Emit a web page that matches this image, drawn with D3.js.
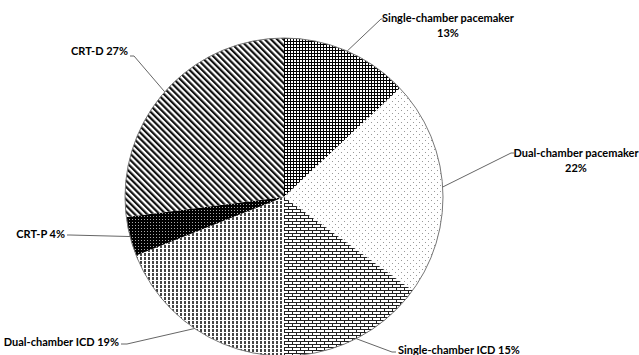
<!DOCTYPE html>
<html>
<head>
<meta charset="utf-8">
<script src="https://cdn.jsdelivr.net/npm/d3@7"></script>
<style>
  body { margin: 0; background: #fff; }
  svg { display: block; }
  text { font-family: Lato, "Liberation Sans", sans-serif; font-weight: bold; font-size: 11px; fill: #000; }
</style>
</head>
<body>
<svg id="chart" width="639" height="355"></svg>
<script>
// device types, share of implants (%)
let devices = ["Single-chamber pacemaker", "Dual-chamber pacemaker", "Single-chamber ICD", "Dual-chamber ICD", "CRT-P", "CRT-D"]
let shares = [13, 22, 15, 19, 4, 27]
let patternIds = ["grid", "dots", "brick", "dash", "blackdot", "diag"]

// label layout: [text x, first baseline, anchor, elbow x, elbow y, two lines?]
let labelLayout = [
  [448, 22, "middle", 381, 19, true],
  [576, 157, "middle", 511, 153, true],
  [398, 354, "start", 392, 352, false],
  [119, 346, "end", 127, 344, false],
  [65, 238, "end", 70, 235, false],
  [128, 55, "end", 134, 56, false]
]

let svg = d3.select("#chart")
let cx = 284, cy = 197, radius = 159

let defs = svg.append("defs")

// crosshatch
let p = defs.append("pattern").attr("id", "grid").attr("patternUnits", "userSpaceOnUse").attr("width", 3).attr("height", 3)
p.append("rect").attr("width", 3).attr("height", 3).attr("fill", "#fff")
p.append("rect").attr("width", 3).attr("height", 1).attr("fill", "#000")
p.append("rect").attr("width", 1).attr("height", 3).attr("fill", "#000")

// sparse dots
p = defs.append("pattern").attr("id", "dots").attr("patternUnits", "userSpaceOnUse").attr("width", 6).attr("height", 6)
p.append("rect").attr("width", 6).attr("height", 6).attr("fill", "#fff")
p.append("rect").attr("width", 1).attr("height", 1).attr("fill", "#999")
p.append("rect").attr("x", 3).attr("y", 3).attr("width", 1).attr("height", 1).attr("fill", "#999")

// bricks
p = defs.append("pattern").attr("id", "brick").attr("patternUnits", "userSpaceOnUse").attr("width", 8).attr("height", 6)
p.append("rect").attr("width", 8).attr("height", 6).attr("fill", "#fff")
p.append("rect").attr("width", 8).attr("height", 1).attr("fill", "#222")
p.append("rect").attr("y", 3).attr("width", 8).attr("height", 1).attr("fill", "#222")
p.append("rect").attr("width", 1).attr("height", 3).attr("fill", "#222")
p.append("rect").attr("x", 4).attr("y", 3).attr("width", 1).attr("height", 3).attr("fill", "#222")

// small vertical dashes
p = defs.append("pattern").attr("id", "dash").attr("patternUnits", "userSpaceOnUse").attr("width", 4).attr("height", 4)
p.append("rect").attr("width", 4).attr("height", 4).attr("fill", "#fff")
p.append("rect").attr("width", 2).attr("height", 3).attr("fill", "#444")

// black with white dots
p = defs.append("pattern").attr("id", "blackdot").attr("patternUnits", "userSpaceOnUse").attr("width", 3).attr("height", 3)
p.append("rect").attr("width", 3).attr("height", 3).attr("fill", "#000")
p.append("rect").attr("x", 1).attr("y", 1).attr("width", 1).attr("height", 1).attr("fill", "#aaa")

// diagonal stripes
p = defs.append("pattern").attr("id", "diag").attr("patternUnits", "userSpaceOnUse").attr("width", 4.4).attr("height", 4.4)
  .attr("patternTransform", "rotate(-45)")
p.append("rect").attr("width", 4.4).attr("height", 4.4).attr("fill", "#fff")
p.append("rect").attr("width", 2.2).attr("height", 4.4).attr("fill", "#111")

let pie = d3.pie().sort(null).value(d => d)
let arcs = pie(shares)
let arc = d3.arc().innerRadius(0).outerRadius(radius)

let g = svg.append("g").attr("transform", `translate(${cx},${cy})`)

g.selectAll("path.slice")
  .data(arcs)
  .enter()
  .append("path")
  .attr("class", "slice")
  .attr("d", arc)
  .attr("fill", (d, i) => `url(#${patternIds[i]})`)

g.append("circle").attr("r", radius).attr("fill", "none").attr("stroke", "#777").attr("stroke-width", 1)

// leader lines from the slice's outer edge
arcs.forEach((d, i) => {
  let mid = (d.startAngle + d.endAngle) / 2
  let x0 = cx + radius * Math.sin(mid)
  let y0 = cy - radius * Math.cos(mid)
  let L = labelLayout[i]
  let tx = L[2] == "start" ? L[0] - 2 : (L[2] == "end" ? L[0] + 2 : L[3] + 3)
  svg.append("polyline")
    .attr("points", `${x0},${y0} ${L[3]},${L[4]} ${tx},${L[4]}`)
    .attr("fill", "none").attr("stroke", "#666").attr("stroke-width", 1)

  let pct = shares[i] + "%"
  if (L[5]) {
    svg.append("text").attr("x", L[0]).attr("y", L[1]).attr("text-anchor", L[2]).text(devices[i])
    svg.append("text").attr("x", L[0]).attr("y", L[1] + 15).attr("text-anchor", L[2]).text(pct)
  } else {
    svg.append("text").attr("x", L[0]).attr("y", L[1]).attr("text-anchor", L[2]).text(devices[i] + " " + pct)
  }
})
</script>
</body>
</html>
